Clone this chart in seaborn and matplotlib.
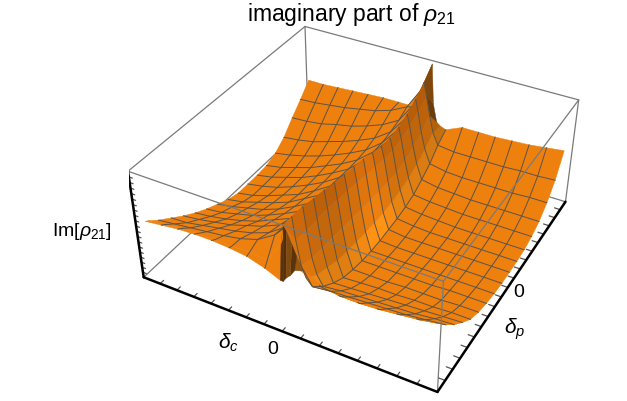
import numpy as np
import matplotlib
matplotlib.use("Agg")
import matplotlib.pyplot as plt
import seaborn as sns

# grid of the surface, denser right beside the ridge at delta_c = 0
delta_c = [-.96, -.84, -.72, -.6, -.48, -.36, -.24, -.12, -.02, 0, .02, .05, .08, .12, .24, .36, .48, .6, .72, .84, .96]
delta_p = [-.96, -.93, -.84, -.72, -.6, -.48, -.36, -.24, -.12, 0, .12, .24, .36, .48, .6, .72, .84, .96]
im_rho = [
    [.53, .55, .57, .58, .58, .57, .55, .50, .44, .44, .48, .52, .58, .60, .53, .50, .50, .51, .53, .55, .58],
    [.51, .53, .55, .56, .56, .56, .56, .55, .75, .92, .88, .78, .68, .58, .48, .46, .46, .47, .49, .51, .54],
    [.44, .46, .48, .50, .52, .55, .60, .70, .86, .92, .72, .50, .40, .34, .36, .37, .38, .39, .40, .42, .44],
    [.36, .37, .40, .43, .46, .50, .56, .67, .85, .91, .70, .46, .32, .23, .25, .26, .27, .28, .29, .31, .32],
    [.28, .30, .33, .36, .41, .46, .53, .64, .82, .88, .70, .45, .28, .15, .16, .17, .18, .19, .20, .21, .22],
    [.21, .23, .26, .30, .35, .42, .49, .61, .80, .86, .70, .44, .24, .09, .10, .11, .11, .12, .12, .13, .13],
    [.15, .17, .21, .25, .31, .38, .46, .59, .78, .83, .68, .43, .22, .06, .06, .06, .07, .07, .07, .08, .08],
    [.10, .13, .17, .21, .27, .35, .44, .57, .76, .81, .67, .42, .21, .04, .04, .04, .04, .04, .05, .05, .05],
    [.05, .08, .13, .18, .24, .33, .42, .56, .74, .79, .65, .41, .20, .03, .03, .03, .03, .03, .03, .03, .03],
    [.02, .05, .10, .16, .22, .31, .41, .55, .72, .77, .63, .40, .19, .03, .02, .02, .02, .02, .02, .02, .02],
    [.02, .05, .09, .15, .22, .30, .40, .54, .69, .74, .61, .39, .19, .04, .02, .02, .02, .02, .02, .02, .02],
    [.02, .05, .10, .15, .22, .30, .39, .53, .67, .71, .60, .39, .20, .05, .03, .02, .02, .02, .02, .02, .02],
    [.03, .06, .11, .16, .23, .30, .39, .52, .66, .70, .59, .39, .22, .07, .05, .04, .03, .03, .03, .03, .03],
    [.07, .10, .14, .19, .25, .32, .40, .52, .67, .72, .61, .41, .25, .10, .08, .07, .06, .06, .06, .06, .06],
    [.15, .17, .20, .25, .30, .36, .43, .54, .70, .76, .65, .46, .30, .16, .13, .12, .11, .11, .11, .11, .11],
    [.27, .28, .30, .34, .37, .42, .48, .57, .75, .82, .71, .51, .36, .23, .20, .19, .19, .19, .19, .20, .20],
    [.38, .39, .41, .43, .46, .49, .54, .62, .82, .90, .79, .60, .44, .33, .31, .31, .31, .31, .32, .32, .33],
    [.50, .50, .51, .52, .53, .54, .54, .54, .52, 1.0, .62, .45, .42, .40, .47, .47, .47, .48, .49, .51, .53],
]
wall_shade = [1, 1.08, 1.04, .98, .96, .96, 1.0, 1.04, 1.1, 1.12, 1.06, 1.0, .98, .96, .94, .92, .85, .8]
wall_cols = [(196, 100, 10), (203, 107, 12), (212, 114, 13), (232, 132, 18)]
orange = (238, 128, 14)
front_strip = [(92, 50, 10), (84, 46, 9), (128, 74, 14), (92, 50, 10), (150, 86, 14)]
mesh_skip_c = [-.02, 0, .02, .05, .08]
mesh_skip_p = [-.93]
tick_c = [-.875, -.75, -.625, -.5, -.375, -.25, -.125, 0, .125, .25, .375, .5, .625, .75, .875]
tick_p = [-.9, -.8, -.7, -.6, -.5, -.4, -.3, -.2, -.1, 0, .1, .2, .3, .4, .5, .6, .7, .8, .9]
tick_z = [.05, .1, .15, .2, .25, .3, .35, .4, .45, .5, .55, .6, .65, .7, .75, .8, .85, .9, .95]

sns.set_theme(style="white")
plt.rcParams["font.family"] = ["Liberation Sans", "DejaVu Sans"]
plt.rcParams["mathtext.fontset"] = "custom"
plt.rcParams["mathtext.rm"] = "Liberation Sans"
plt.rcParams["mathtext.it"] = "Liberation Sans:italic"

W, H = 627, 402
fig = plt.figure(figsize=(W / 100, H / 100), dpi=100)
ax = fig.add_axes([128.97 / W, -21.11 / H, 456.56 / W, 456.56 / H], projection="3d", computed_zorder=False)
ax.set_xlim(-1, 1, view_margin=0)
ax.set_ylim(-1, 1, view_margin=0)
ax.set_zlim(0, 1, view_margin=0)
ax.view_init(elev=36.33, azim=-61.35)
ax.set_proj_type("persp", focal_length=.468)
ax.set_box_aspect((1, .985, .4))
ax.set_axis_off()
ax.patch.set_alpha(0)

X, Y = np.meshgrid(delta_c, delta_p)
Z = np.array(im_rho)
mid = delta_c.index(0)

# flat sheets keep one colour, only the wall and the two spikes are shaded
colors = np.empty(Z.shape + (4,))
colors[:, :] = (*[c / 255 for c in orange], 1)
for j, col in enumerate(wall_cols):
    for i, f in enumerate(wall_shade):
        colors[i, mid + j] = (*[min(c * f, 255) / 255 for c in col], 1)
for j, col in enumerate(front_strip):
    colors[0, mid - 1 + j] = (*[c / 255 for c in col], 1)
last = len(delta_p) - 2
colors[last, mid] = (.5, .28, .05, 1)
colors[last, mid + 1] = (.42, .24, .05, 1)
colors[last, mid - 1] = (.74, .39, .05, 1)

kw = dict(shade=False, linewidth=.3, rstride=1, cstride=1)
ax.plot_surface(X[:, :mid + 1], Y[:, :mid + 1], Z[:, :mid + 1], facecolors=colors[:, :mid + 1], zorder=3, **kw)
ax.plot_surface(X[:, mid:], Y[:, mid:], Z[:, mid:], facecolors=colors[:, mid:], zorder=5, **kw)

line_col = "#5c5244"
for j, xv in enumerate(delta_c[1:-1], start=1):
    if xv in mesh_skip_c:
        continue
    ax.plot(X[:, j], Y[:, j], Z[:, j], color=line_col, lw=.7, zorder=4 if xv < 0 else 6)
for i, yv in enumerate(delta_p[1:-1], start=1):
    if yv in mesh_skip_p:
        continue
    ax.plot(X[i, :mid + 1], Y[i, :mid + 1], Z[i, :mid + 1], color=line_col, lw=.7, zorder=4)
    ax.plot(X[i, mid:], Y[i, mid:], Z[i, mid:], color=line_col, lw=.7, zorder=6)

# box edges: back ones under the surface, front ones over it
corners = np.array([[-1, -1, 0], [1, -1, 0], [1, 1, 0], [-1, 1, 0],
                    [-1, -1, 1], [1, -1, 1], [1, 1, 1], [-1, 1, 1]], float)


def edge(a, b, **kw):
    ax.plot(*np.array([corners[a], corners[b]]).T, **kw)


grey = dict(color="#7a7a7a", lw=.9)
for a, b in [(3, 0), (3, 2), (3, 7), (4, 7), (7, 6), (2, 6)]:
    edge(a, b, zorder=1, **grey)
for a, b in [(4, 5), (5, 6), (1, 5)]:
    edge(a, b, zorder=8, **grey)
for a, b in [(0, 1), (1, 2), (0, 4)]:
    edge(a, b, zorder=9, color="black", lw=1.8)

for v in tick_c:
    ax.plot([v, v], [-1, -.965], [0, 0], color="#555555", lw=.9, zorder=8)
for v in tick_p:
    ax.plot([1, .96], [v, v], [0, 0], color="#555555", lw=.9, zorder=8)
for v in tick_z:
    ax.plot([-1, -.975], [-1, -1], [v, v], color="#555555", lw=.9, zorder=8)

fig.text(351 / W, 1 - 14 / H, r"imaginary part of $\rho_{21}$", ha="center", va="center", fontsize=16.5, color="black")
fig.text(82 / W, 1 - 232 / H, r"Im[$\rho_{21}$]", ha="center", va="center", fontsize=14, color="black")
fig.text(228 / W, 1 - 343 / H, r"$\delta_c$", ha="center", va="center", fontsize=15, color="black")
fig.text(273 / W, 1 - 350 / H, "0", ha="center", va="center", fontsize=14, color="black")
fig.text(515 / W, 1 - 329 / H, r"$\delta_p$", ha="center", va="center", fontsize=15, color="black")
fig.text(519 / W, 1 - 293 / H, "0", ha="center", va="center", fontsize=14, color="black")

fig.savefig("out.png", dpi=100)
